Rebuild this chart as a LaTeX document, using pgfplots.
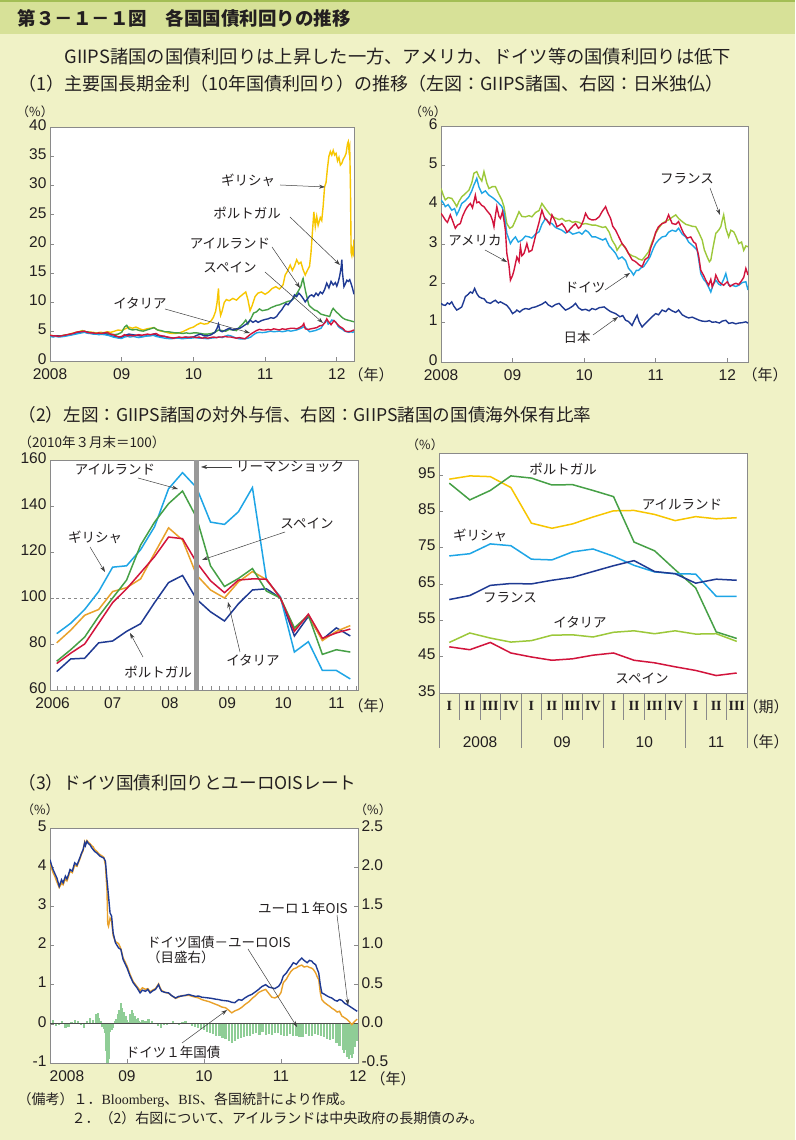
\documentclass[border=0pt]{standalone}
\usepackage{pgfplots}
\pgfplotsset{compat=1.18}
\usetikzlibrary{arrows.meta}
\usepackage{fontspec}
\setmainfont{Noto Sans CJK JP}
\newfontfamily\lsans{Liberation Sans}
\newfontfamily\lserif{Liberation Serif}
\definecolor{bg}{HTML}{F0F2C6}
\definecolor{band}{HTML}{D7E198}
\definecolor{bandline}{HTML}{A3BE55}
\definecolor{axgray}{HTML}{8A8A8A}
\definecolor{cyel}{HTML}{F7C600}
\definecolor{cnavy}{HTML}{1F3A93}
\definecolor{cgrn}{HTML}{46A046}
\definecolor{clblue}{HTML}{1EA5E6}
\definecolor{cred}{HTML}{D2143C}
\definecolor{cygrn}{HTML}{9CC83A}
\definecolor{corange}{HTML}{E9A12A}
\definecolor{cbar}{HTML}{8FCD96}
\definecolor{txt}{HTML}{231F20}
\newcommand{\fs}[1]{\fontsize{#1}{#1}\selectfont}
\pgfplotsset{
  base/.style={
    scale only axis, axis background/.style={fill=white},
    axis line style={draw=axgray, line width=0.7pt},
    tick style={draw=axgray, line width=0.6pt},
    tick align=inside, major tick length=4pt,
    xtick pos=left, ytick pos=left,
    tick label style={font=\lsans\fs{15.5}, text=txt},
    xticklabel style={yshift=-4pt},
    yticklabel style={yshift=2pt},
    /pgf/number format/assume math mode=true,
    anchor=south west,
  },
}
\tikzset{
  lab/.style={font=\fs{13.5}, text=txt, inner sep=1pt},
  arr/.style={draw=black!75, line width=0.5pt, -{Stealth[length=6pt,width=4pt]}},
}
\begin{document}
\begin{tikzpicture}
\useasboundingbox (0pt,0pt) rectangle (795pt,1140pt);
\begin{scope}[x=1pt,y=1pt]
\fill[bg] (0,0) rectangle (795,1140);
\fill[band] (0,1106) rectangle (795,1140);
\draw[bandline, line width=2.5pt] (0,1139) -- (795,1139);
\node[anchor=west, font=\fs{18.5}\bfseries, text=txt] at (14,1122) {第３－１－１図　各国国債利回りの推移};
\node[anchor=west, font=\fs{18.3}, text=txt] at (61,1083) {GIIPS諸国の国債利回りは上昇した一方、アメリカ、ドイツ等の国債利回りは低下};
\node[anchor=west, font=\fs{18}, text=txt] at (15,1056) {（1）主要国長期金利（10年国債利回り）の推移（左図：GIIPS諸国、右図：日米独仏）};
\end{scope}

%================ Panel 1 =================
\begin{axis}[base, at={(50pt,779pt)}, width=304pt, height=234pt,
  xmin=2008, xmax=2012.24, ymin=0, ymax=40,
  xtick={2008,2009,2010,2011,2012}, xticklabels={2008,09,10,11,12},
  ytick={0,5,...,40}]
\addplot[cyel, line width=1.4pt] coordinates {
(2008.00,4.4)(2008.05,4.3)(2008.10,4.3)(2008.15,4.25)(2008.20,4.4)(2008.25,4.5)(2008.30,4.7)(2008.35,4.85)(2008.40,5.0)(2008.45,5.2)(2008.50,5.0)(2008.55,4.95)(2008.60,4.9)(2008.65,4.8)(2008.70,4.9)(2008.75,4.85)(2008.80,5.0)(2008.85,4.9)(2008.90,5.1)(2008.95,5.3)(2009.00,5.2)(2009.05,5.5)(2009.10,5.8)(2009.15,5.6)(2009.20,5.8)(2009.25,5.5)(2009.30,5.3)(2009.35,5.5)(2009.40,5.6)(2009.45,5.7)(2009.50,5.3)(2009.55,5.1)(2009.60,5.0)(2009.65,4.8)(2009.70,4.7)(2009.75,4.7)(2009.80,4.8)(2009.85,5.0)(2009.90,5.3)(2009.95,5.6)(2010.00,5.8)(2010.05,6.2)(2010.10,6.5)(2010.15,6.3)(2010.20,6.4)(2010.25,6.9)(2010.28,7.5)(2010.31,8.5)(2010.33,10.0)(2010.35,12.4)(2010.36,9.5)(2010.38,7.8)(2010.40,8.5)(2010.43,10.0)(2010.46,10.5)(2010.50,10.3)(2010.55,10.7)(2010.60,10.4)(2010.65,11.0)(2010.70,11.5)(2010.73,11.8)(2010.76,10.5)(2010.79,8.6)(2010.82,9.5)(2010.86,11.0)(2010.90,11.6)(2010.95,11.8)(2011.00,11.4)(2011.05,11.8)(2011.10,12.4)(2011.15,12.7)(2011.20,12.3)(2011.25,13.0)(2011.28,14.7)(2011.31,15.3)(2011.35,16.4)(2011.38,15.5)(2011.41,16.2)(2011.44,17.3)(2011.47,16.6)(2011.50,16.9)(2011.53,15.6)(2011.56,14.7)(2011.59,15.5)(2011.62,16.2)(2011.64,18.5)(2011.66,22.0)(2011.68,25.5)(2011.70,23.0)(2011.72,24.7)(2011.74,23.2)(2011.77,24.5)(2011.79,24.0)(2011.81,26.5)(2011.83,29.8)(2011.85,30.5)(2011.87,33.0)(2011.89,35.0)(2011.91,35.8)(2011.93,35.2)(2011.95,36.0)(2011.97,35.2)(2011.99,35.5)(2012.01,34.2)(2012.03,34.8)(2012.05,33.5)(2012.07,33.8)(2012.09,34.5)(2012.11,34.9)(2012.13,35.5)(2012.15,37.2)(2012.16,37.5)(2012.17,36.0)(2012.18,36.6)(2012.19,30.0)(2012.20,18.5)(2012.21,18.0)(2012.22,19.0)(2012.23,18.5)(2012.24,20.8)};
\addplot[cgrn, line width=1.4pt] coordinates {
(2008.00,4.3)(2008.05,4.2)(2008.10,4.3)(2008.15,4.3)(2008.20,4.4)(2008.25,4.5)(2008.30,4.6)(2008.35,4.8)(2008.40,4.9)(2008.45,5.1)(2008.50,5.0)(2008.55,4.9)(2008.60,4.8)(2008.65,4.7)(2008.70,4.7)(2008.75,4.8)(2008.80,4.7)(2008.85,4.6)(2008.90,4.5)(2008.95,4.6)(2009.00,4.9)(2009.04,5.8)(2009.07,6.1)(2009.10,5.5)(2009.15,5.3)(2009.20,5.4)(2009.25,5.2)(2009.30,5.1)(2009.35,5.3)(2009.40,5.5)(2009.45,5.7)(2009.50,5.3)(2009.55,5.2)(2009.60,5.0)(2009.65,5.0)(2009.70,4.9)(2009.75,4.8)(2009.80,4.8)(2009.85,4.7)(2009.90,4.8)(2009.95,4.7)(2010.00,4.8)(2010.05,4.8)(2010.10,4.7)(2010.15,4.6)(2010.20,4.6)(2010.25,4.7)(2010.30,4.9)(2010.35,5.3)(2010.40,5.2)(2010.45,5.1)(2010.50,5.4)(2010.55,5.3)(2010.60,5.2)(2010.65,5.9)(2010.70,6.5)(2010.73,7.0)(2010.76,6.3)(2010.80,7.2)(2010.84,8.2)(2010.88,8.4)(2010.92,8.9)(2010.96,8.6)(2011.00,8.7)(2011.04,8.8)(2011.08,9.1)(2011.12,9.3)(2011.16,9.5)(2011.20,9.6)(2011.24,9.8)(2011.28,10.0)(2011.32,10.2)(2011.36,10.3)(2011.40,10.7)(2011.44,11.5)(2011.47,12.1)(2011.50,12.8)(2011.52,13.8)(2011.53,14.1)(2011.55,12.8)(2011.57,11.6)(2011.59,10.6)(2011.61,9.6)(2011.63,9.3)(2011.66,9.0)(2011.69,8.7)(2011.72,8.6)(2011.75,8.3)(2011.78,8.0)(2011.81,7.9)(2011.84,7.8)(2011.87,7.7)(2011.90,7.6)(2011.93,8.6)(2011.95,9.0)(2011.97,8.7)(2012.00,8.3)(2012.03,8.0)(2012.06,7.6)(2012.09,7.3)(2012.12,7.1)(2012.15,7.0)(2012.18,6.9)(2012.21,6.8)(2012.24,6.7)};
\addplot[cnavy, line width=1.4pt] coordinates {
(2008.00,4.3)(2008.05,4.2)(2008.10,4.3)(2008.15,4.2)(2008.20,4.3)(2008.25,4.4)(2008.30,4.5)(2008.35,4.7)(2008.40,4.8)(2008.45,5.0)(2008.50,5.0)(2008.55,4.8)(2008.60,4.7)(2008.65,4.6)(2008.70,4.6)(2008.75,4.7)(2008.80,4.5)(2008.85,4.3)(2008.90,4.2)(2008.95,4.0)(2009.00,4.0)(2009.05,4.4)(2009.10,4.6)(2009.15,4.5)(2009.20,4.4)(2009.25,4.3)(2009.30,4.2)(2009.35,4.3)(2009.40,4.4)(2009.45,4.6)(2009.50,4.3)(2009.55,4.2)(2009.60,4.2)(2009.65,4.0)(2009.70,3.9)(2009.75,3.9)(2009.80,4.0)(2009.85,3.9)(2009.90,4.1)(2009.95,4.0)(2010.00,4.1)(2010.05,4.4)(2010.10,4.6)(2010.15,4.3)(2010.20,4.3)(2010.25,4.5)(2010.30,4.9)(2010.33,5.6)(2010.35,6.3)(2010.37,5.2)(2010.40,5.0)(2010.45,5.3)(2010.50,5.6)(2010.55,5.3)(2010.60,5.5)(2010.65,5.6)(2010.70,6.0)(2010.75,6.4)(2010.79,7.0)(2010.83,6.6)(2010.87,6.9)(2010.90,6.6)(2010.95,6.9)(2011.00,7.1)(2011.04,7.2)(2011.08,7.4)(2011.12,7.3)(2011.16,7.6)(2011.20,8.3)(2011.23,8.7)(2011.26,9.3)(2011.29,9.8)(2011.32,9.6)(2011.35,10.1)(2011.38,10.5)(2011.41,11.3)(2011.44,11.0)(2011.47,11.6)(2011.50,11.2)(2011.53,10.7)(2011.56,10.1)(2011.59,10.6)(2011.62,11.1)(2011.65,11.3)(2011.68,11.0)(2011.71,11.6)(2011.74,11.2)(2011.77,11.8)(2011.80,11.5)(2011.83,12.2)(2011.86,13.3)(2011.89,12.5)(2011.92,13.6)(2011.95,13.0)(2011.98,13.4)(2012.00,12.8)(2012.02,13.5)(2012.04,14.5)(2012.06,16.0)(2012.07,17.3)(2012.08,15.0)(2012.10,12.7)(2012.12,13.2)(2012.14,13.8)(2012.16,13.6)(2012.18,13.9)(2012.20,13.2)(2012.22,12.4)(2012.24,11.4)};
\addplot[clblue, line width=1.4pt] coordinates {
(2008.00,4.2)(2008.04,4.1)(2008.08,4.2)(2008.12,4.1)(2008.16,4.15)(2008.20,4.2)(2008.24,4.3)(2008.28,4.4)(2008.32,4.5)(2008.36,4.6)(2008.40,4.7)(2008.44,4.8)(2008.48,4.9)(2008.52,4.75)(2008.56,4.7)(2008.60,4.6)(2008.64,4.6)(2008.68,4.5)(2008.72,4.55)(2008.76,4.5)(2008.80,4.4)(2008.84,4.3)(2008.88,4.1)(2008.92,4.0)(2008.96,3.9)(2009.00,3.85)(2009.04,4.1)(2009.08,4.2)(2009.12,4.1)(2009.16,4.2)(2009.20,4.1)(2009.24,4.0)(2009.28,4.1)(2009.32,4.2)(2009.36,4.3)(2009.40,4.3)(2009.44,4.4)(2009.48,4.2)(2009.52,4.1)(2009.56,4.0)(2009.60,3.9)(2009.64,3.85)(2009.68,3.8)(2009.72,3.85)(2009.76,3.9)(2009.80,3.9)(2009.84,3.8)(2009.88,3.85)(2009.92,3.9)(2009.96,3.9)(2010.00,3.95)(2010.04,4.0)(2010.08,3.9)(2010.12,3.9)(2010.16,3.85)(2010.20,3.8)(2010.24,3.9)(2010.28,3.95)(2010.32,4.0)(2010.36,4.1)(2010.40,4.0)(2010.44,4.2)(2010.48,4.4)(2010.52,4.3)(2010.56,4.1)(2010.60,3.9)(2010.64,3.8)(2010.68,3.75)(2010.72,3.8)(2010.76,3.9)(2010.80,4.1)(2010.84,4.5)(2010.88,4.8)(2010.92,4.9)(2010.96,4.85)(2011.00,4.9)(2011.04,5.0)(2011.08,5.1)(2011.12,5.0)(2011.16,5.05)(2011.20,5.1)(2011.24,5.0)(2011.28,5.1)(2011.32,5.2)(2011.36,5.1)(2011.40,5.2)(2011.44,5.3)(2011.48,5.5)(2011.52,5.7)(2011.55,5.9)(2011.58,5.5)(2011.62,5.0)(2011.66,5.1)(2011.70,5.2)(2011.74,5.4)(2011.78,5.6)(2011.81,6.2)(2011.84,6.8)(2011.86,7.0)(2011.88,6.3)(2011.90,6.5)(2011.93,7.0)(2011.96,6.9)(2011.99,6.6)(2012.02,5.9)(2012.05,5.6)(2012.08,5.4)(2012.11,5.1)(2012.14,5.0)(2012.17,4.9)(2012.20,5.0)(2012.22,4.9)(2012.24,5.0)};
\addplot[cred, line width=1.4pt] coordinates {
(2008.00,4.4)(2008.04,4.3)(2008.08,4.3)(2008.12,4.2)(2008.16,4.3)(2008.20,4.4)(2008.24,4.5)(2008.28,4.6)(2008.32,4.7)(2008.36,4.9)(2008.40,5.0)(2008.44,5.0)(2008.48,5.1)(2008.52,4.9)(2008.56,4.8)(2008.60,4.8)(2008.64,4.7)(2008.68,4.8)(2008.72,4.7)(2008.76,4.8)(2008.80,4.9)(2008.84,4.6)(2008.88,4.5)(2008.92,4.3)(2008.96,4.1)(2009.00,4.2)(2009.04,4.5)(2009.08,4.3)(2009.12,4.4)(2009.16,4.3)(2009.20,4.4)(2009.24,4.5)(2009.28,4.4)(2009.32,4.5)(2009.36,4.6)(2009.40,4.5)(2009.44,4.6)(2009.48,4.7)(2009.52,4.4)(2009.56,4.3)(2009.60,4.2)(2009.64,4.1)(2009.68,4.0)(2009.72,3.9)(2009.76,4.0)(2009.80,4.1)(2009.84,4.0)(2009.88,4.1)(2009.92,4.0)(2009.96,4.1)(2010.00,4.1)(2010.04,4.0)(2010.08,4.1)(2010.12,3.9)(2010.16,4.0)(2010.20,3.9)(2010.24,4.0)(2010.28,4.1)(2010.32,4.0)(2010.36,4.1)(2010.40,4.1)(2010.44,4.2)(2010.48,4.1)(2010.52,4.1)(2010.56,4.0)(2010.60,3.9)(2010.64,4.0)(2010.68,3.9)(2010.72,3.8)(2010.76,4.2)(2010.80,4.6)(2010.84,4.9)(2010.88,5.2)(2010.92,5.4)(2010.96,5.3)(2011.00,5.3)(2011.04,5.4)(2011.08,5.3)(2011.12,5.5)(2011.16,5.4)(2011.20,5.3)(2011.24,5.5)(2011.28,5.4)(2011.32,5.5)(2011.36,5.6)(2011.40,5.6)(2011.44,5.5)(2011.48,5.7)(2011.52,6.0)(2011.54,6.4)(2011.56,5.5)(2011.60,5.4)(2011.64,5.5)(2011.68,5.6)(2011.72,5.7)(2011.76,6.0)(2011.80,6.1)(2011.84,6.6)(2011.86,7.2)(2011.88,6.8)(2011.92,6.2)(2011.96,6.9)(2012.00,6.4)(2012.04,5.9)(2012.08,5.6)(2012.12,5.1)(2012.16,5.0)(2012.20,5.1)(2012.24,5.3)};
\end{axis}
\begin{scope}[x=1pt,y=1pt]
\node[lab, font=\fs{12.5}] at (35,1028) {（\%）};
\node[lab, font=\fs{15}] at (371,765) {（年）};
\node[lab] at (248,960) {ギリシャ};
\draw[arr] (280,955) -- (325,953);
\node[lab] at (247,927) {ポルトガル};
\draw[arr] (290,923) -- (340,875);
\node[lab] at (230,896) {アイルランド};
\draw[arr] (272,893) -- (300,852);
\node[lab] at (230,873) {スペイン};
\draw[arr] (265,868) -- (323,817);
\node[lab] at (140,837) {イタリア};
\draw[arr] (165,831) -- (250,807);
\end{scope}

%================ Panel 2 =================
\begin{axis}[base, at={(441pt,778pt)}, width=307pt, height=236pt,
  xmin=2008, xmax=2012.29, ymin=0, ymax=6,
  xtick={2008,2009,2010,2011,2012}, xticklabels={2008,09,10,11,12},
  ytick={0,1,...,6}]
\addplot[cygrn, line width=1.4pt] coordinates {
(2008.00,4.41)(2008.03,4.25)(2008.06,4.12)(2008.10,4.18)(2008.15,4.16)(2008.19,4.05)(2008.22,3.95)(2008.25,4.08)(2008.29,4.20)(2008.34,4.28)(2008.39,4.37)(2008.43,4.55)(2008.46,4.80)(2008.50,4.84)(2008.53,4.71)(2008.57,4.60)(2008.60,4.84)(2008.64,4.55)(2008.67,4.41)(2008.72,4.46)(2008.76,4.46)(2008.80,4.30)(2008.85,4.12)(2008.88,3.95)(2008.92,3.52)(2008.96,3.40)(2009.00,3.44)(2009.04,3.60)(2009.09,3.82)(2009.13,3.70)(2009.18,3.69)(2009.23,3.72)(2009.27,3.69)(2009.32,3.80)(2009.37,3.85)(2009.41,4.03)(2009.46,3.90)(2009.51,3.78)(2009.55,3.70)(2009.60,3.66)(2009.65,3.62)(2009.69,3.65)(2009.74,3.58)(2009.79,3.60)(2009.84,3.55)(2009.88,3.57)(2009.93,3.55)(2009.97,3.50)(2010.02,3.52)(2010.07,3.50)(2010.11,3.48)(2010.16,3.48)(2010.21,3.45)(2010.26,3.42)(2010.30,3.44)(2010.35,3.30)(2010.39,3.10)(2010.44,2.95)(2010.46,2.84)(2010.50,2.95)(2010.53,3.01)(2010.58,2.88)(2010.62,2.76)(2010.67,2.70)(2010.72,2.67)(2010.76,2.62)(2010.81,2.59)(2010.85,2.68)(2010.90,2.80)(2010.95,3.05)(2011.00,3.27)(2011.04,3.40)(2011.09,3.52)(2011.14,3.58)(2011.18,3.61)(2011.23,3.68)(2011.28,3.74)(2011.32,3.65)(2011.37,3.57)(2011.42,3.50)(2011.46,3.48)(2011.51,3.45)(2011.56,3.44)(2011.60,3.30)(2011.65,3.10)(2011.68,2.85)(2011.72,2.67)(2011.75,2.55)(2011.77,2.59)(2011.80,2.90)(2011.84,3.27)(2011.88,3.35)(2011.91,3.44)(2011.93,3.60)(2011.95,3.74)(2011.98,3.40)(2012.02,3.18)(2012.05,3.35)(2012.09,3.31)(2012.12,3.20)(2012.16,3.01)(2012.20,3.05)(2012.23,2.84)(2012.26,2.95)(2012.29,2.93)};
\addplot[clblue, line width=1.4pt] coordinates {
(2008.00,4.12)(2008.03,4.05)(2008.06,3.95)(2008.10,4.00)(2008.15,3.86)(2008.19,3.90)(2008.22,3.74)(2008.25,3.85)(2008.29,4.03)(2008.34,4.10)(2008.39,4.20)(2008.43,4.35)(2008.46,4.50)(2008.48,4.58)(2008.50,4.67)(2008.53,4.45)(2008.57,4.29)(2008.62,4.35)(2008.67,4.24)(2008.72,4.18)(2008.76,4.12)(2008.80,4.05)(2008.85,3.95)(2008.88,3.80)(2008.92,3.27)(2008.97,3.01)(2009.00,3.10)(2009.04,3.18)(2009.08,3.05)(2009.13,3.10)(2009.18,3.20)(2009.23,3.18)(2009.27,3.15)(2009.32,3.25)(2009.37,3.31)(2009.41,3.50)(2009.46,3.65)(2009.50,3.55)(2009.55,3.52)(2009.60,3.42)(2009.65,3.38)(2009.69,3.35)(2009.74,3.28)(2009.79,3.32)(2009.84,3.25)(2009.88,3.27)(2009.93,3.30)(2009.97,3.25)(2010.02,3.35)(2010.06,3.30)(2010.11,3.18)(2010.16,3.18)(2010.21,3.14)(2010.26,3.10)(2010.30,3.14)(2010.35,2.95)(2010.40,2.85)(2010.44,2.76)(2010.48,2.62)(2010.53,2.67)(2010.58,2.58)(2010.62,2.38)(2010.66,2.30)(2010.69,2.21)(2010.73,2.33)(2010.76,2.33)(2010.80,2.40)(2010.83,2.42)(2010.88,2.55)(2010.92,2.67)(2010.97,2.90)(2011.00,3.01)(2011.04,3.10)(2011.09,3.18)(2011.14,3.20)(2011.18,3.30)(2011.23,3.35)(2011.28,3.32)(2011.32,3.40)(2011.37,3.25)(2011.42,3.18)(2011.46,3.05)(2011.51,2.97)(2011.55,2.90)(2011.58,2.84)(2011.61,2.50)(2011.63,2.25)(2011.67,2.10)(2011.70,2.04)(2011.74,1.90)(2011.77,1.78)(2011.80,1.95)(2011.84,2.08)(2011.88,1.98)(2011.91,1.95)(2011.95,2.10)(2011.98,2.25)(2012.02,1.95)(2012.07,1.95)(2012.12,1.92)(2012.16,1.95)(2012.21,2.02)(2012.26,2.04)(2012.29,1.83)};
\addplot[cred, line width=1.4pt] coordinates {
(2008.00,3.78)(2008.03,3.70)(2008.06,3.61)(2008.09,3.55)(2008.13,3.74)(2008.16,3.60)(2008.20,3.40)(2008.23,3.48)(2008.27,3.52)(2008.30,3.70)(2008.34,3.86)(2008.37,3.95)(2008.41,4.03)(2008.44,3.92)(2008.48,4.24)(2008.50,4.05)(2008.53,4.07)(2008.57,3.98)(2008.60,3.95)(2008.64,3.85)(2008.69,3.74)(2008.72,3.60)(2008.74,3.44)(2008.76,3.72)(2008.78,3.95)(2008.81,3.70)(2008.83,3.65)(2008.86,3.82)(2008.88,3.60)(2008.90,3.35)(2008.92,2.76)(2008.95,2.45)(2008.97,2.08)(2009.00,2.20)(2009.02,2.33)(2009.04,2.50)(2009.06,2.67)(2009.09,2.55)(2009.11,2.93)(2009.13,2.70)(2009.16,2.76)(2009.18,2.88)(2009.20,3.01)(2009.23,2.80)(2009.27,2.84)(2009.30,3.05)(2009.34,3.35)(2009.37,3.55)(2009.41,3.86)(2009.45,3.65)(2009.48,3.61)(2009.52,3.50)(2009.55,3.74)(2009.59,3.60)(2009.62,3.44)(2009.66,3.48)(2009.69,3.52)(2009.73,3.42)(2009.76,3.30)(2009.79,3.35)(2009.84,3.45)(2009.88,3.52)(2009.92,3.40)(2009.95,3.44)(2009.99,3.60)(2010.02,3.78)(2010.06,3.65)(2010.11,3.61)(2010.16,3.62)(2010.21,3.69)(2010.25,3.82)(2010.30,3.95)(2010.33,3.80)(2010.37,3.65)(2010.40,3.45)(2010.44,3.35)(2010.48,3.20)(2010.53,3.01)(2010.58,2.90)(2010.62,2.76)(2010.67,2.60)(2010.72,2.55)(2010.76,2.48)(2010.81,2.42)(2010.85,2.60)(2010.90,2.67)(2010.93,2.90)(2010.97,3.10)(2011.00,3.30)(2011.04,3.44)(2011.09,3.52)(2011.14,3.55)(2011.18,3.74)(2011.23,3.52)(2011.28,3.50)(2011.32,3.57)(2011.37,3.35)(2011.39,3.27)(2011.44,3.15)(2011.49,3.18)(2011.53,3.05)(2011.56,3.01)(2011.60,2.70)(2011.63,2.33)(2011.67,2.20)(2011.70,2.08)(2011.74,1.95)(2011.77,2.10)(2011.79,1.91)(2011.82,2.05)(2011.84,2.21)(2011.88,2.05)(2011.91,2.00)(2011.95,1.95)(2012.00,2.04)(2012.04,1.92)(2012.09,1.98)(2012.12,2.00)(2012.16,1.97)(2012.19,2.04)(2012.23,2.15)(2012.26,2.38)(2012.29,2.21)};
\addplot[cnavy, line width=1.4pt] coordinates {
(2008.00,1.49)(2008.03,1.45)(2008.06,1.44)(2008.09,1.50)(2008.12,1.47)(2008.15,1.53)(2008.18,1.42)(2008.22,1.32)(2008.25,1.35)(2008.29,1.40)(2008.32,1.55)(2008.34,1.66)(2008.38,1.72)(2008.41,1.78)(2008.44,1.75)(2008.47,1.87)(2008.50,1.74)(2008.53,1.66)(2008.57,1.62)(2008.60,1.61)(2008.64,1.52)(2008.69,1.49)(2008.72,1.53)(2008.76,1.57)(2008.80,1.50)(2008.83,1.53)(2008.88,1.48)(2008.92,1.44)(2008.96,1.35)(2009.00,1.23)(2009.04,1.28)(2009.06,1.32)(2009.10,1.27)(2009.14,1.33)(2009.18,1.36)(2009.23,1.34)(2009.27,1.38)(2009.32,1.40)(2009.36,1.43)(2009.41,1.47)(2009.46,1.53)(2009.50,1.45)(2009.55,1.40)(2009.60,1.46)(2009.65,1.49)(2009.69,1.41)(2009.74,1.32)(2009.79,1.36)(2009.84,1.42)(2009.88,1.49)(2009.92,1.38)(2009.97,1.32)(2010.02,1.34)(2010.07,1.30)(2010.11,1.36)(2010.16,1.33)(2010.21,1.38)(2010.28,1.40)(2010.33,1.33)(2010.37,1.28)(2010.44,1.23)(2010.50,1.15)(2010.54,1.18)(2010.58,1.06)(2010.62,1.03)(2010.67,0.93)(2010.70,1.05)(2010.74,1.19)(2010.77,1.02)(2010.81,0.89)(2010.85,0.97)(2010.90,1.06)(2010.95,1.15)(2011.00,1.23)(2011.04,1.20)(2011.09,1.32)(2011.14,1.28)(2011.18,1.36)(2011.23,1.30)(2011.28,1.26)(2011.32,1.32)(2011.37,1.20)(2011.42,1.15)(2011.46,1.12)(2011.51,1.14)(2011.56,1.10)(2011.61,1.06)(2011.65,1.04)(2011.70,1.03)(2011.75,1.05)(2011.79,1.01)(2011.84,1.02)(2011.89,0.99)(2011.93,1.04)(2011.98,1.06)(2012.02,0.98)(2012.07,1.00)(2012.12,0.97)(2012.16,0.99)(2012.21,1.00)(2012.26,1.02)(2012.29,0.99)};
\end{axis}
\begin{scope}[x=1pt,y=1pt]
\node[lab, font=\fs{12.5}] at (428,1028) {（\%）};
\node[lab, font=\fs{15}] at (765,765) {（年）};
\node[lab] at (687,961) {フランス};
\draw[arr] (710,952) -- (720,925);
\node[lab] at (475,900) {アメリカ};
\draw[arr] (485,890) -- (507,878);
\node[lab] at (585,852) {ドイツ};
\draw[arr] (605,850) -- (630,867);
\node[lab] at (577,803) {日本};
\draw[arr] (593,805) -- (618,823);
\node[anchor=west, font=\fs{17.6}, text=txt] at (15,725) {（2）左図：GIIPS諸国の対外与信、右図：GIIPS諸国の国債海外保有比率};
\node[anchor=west, font=\fs{13.5}, text=txt] at (15,698) {（2010年３月末＝100）};
\end{scope}

%================ Panel 3 =================
\begin{axis}[base, at={(50pt,450pt)}, width=308pt, height=230pt,
  xmin=-0.48, xmax=21.55, ymin=60, ymax=160,
  ytick={60,80,...,160},
  xtick={0.07,0.68,...,21.5},
  xticklabels={}, major tick length=3.5pt,
  extra x ticks={-0.3,4,8.1,12.2,16.2,20},
  extra x tick labels={2006,07,08,09,10,11},
  extra x tick style={major tick length=0pt}]
\draw[axgray, dashed, line width=0.5pt] (axis cs:-0.48,100) -- (axis cs:21.55,100);
\addplot[cnavy, line width=1.5pt] coordinates {(0,68)(1,73.5)(2,73.8)(3,80.5)(4,81.3)(5,85.5)(6,88.8)(7,98)(8,106.7)(9,109.8)(10,99.5)(11,94)(12,90)(13,97.5)(14,103.5)(15,104)(16,100)(17,83.5)(18,92)(19,82)(20,87)(21,83.5)};
\addplot[clblue, line width=1.5pt] coordinates {(0,84.5)(1,89)(2,95)(3,102.8)(4,113.4)(5,114)(6,121)(7,131)(8,147.5)(9,154.5)(10,148)(11,133)(12,132)(13,137.5)(14,148)(15,107.8)(16,100.5)(17,76.5)(18,81)(19,68.5)(20,68.5)(21,64.8)};
\addplot[corange, line width=1.5pt] coordinates {(0,80.5)(1,86)(2,92.5)(3,95)(4,102.8)(5,104.5)(6,108.3)(7,119.5)(8,130.5)(9,125.2)(10,110)(11,103.5)(12,100)(13,107)(14,111.5)(15,108)(16,100)(17,86.5)(18,92.5)(19,81.5)(20,85.5)(21,88)};
\addplot[cgrn, line width=1.5pt] coordinates {(0,72.5)(1,77.5)(2,83)(3,92)(4,100)(5,107.8)(6,123)(7,133)(8,141)(9,146.5)(10,135)(11,114)(12,105)(13,108.5)(14,112.8)(15,103)(16,100)(17,87)(18,92.5)(19,75.5)(20,77.5)(21,76.5)};
\addplot[cred, line width=1.5pt] coordinates {(0,71.5)(1,76)(2,80)(3,89)(4,98)(5,104)(6,111)(7,118)(8,126.5)(9,125.8)(10,115.5)(11,107.5)(12,102.3)(13,107.8)(14,108.3)(15,108.2)(16,100)(17,85.5)(18,93)(19,82.5)(20,84.8)(21,86.5)};
\fill[black!40] (axis cs:9.82,60) rectangle (axis cs:10.18,160);
\end{axis}
\begin{scope}[x=1pt,y=1pt]
\node[lab, font=\fs{15}] at (371,434) {（年）};
\node[lab] at (115,670) {アイルランド};
\draw[arr] (138,662) -- (178,651);
\node[lab] at (95,603) {ギリシャ};
\draw[arr] (90,593) -- (105,568);
\node[lab] at (307,617) {スペイン};
\draw[arr] (285,608) -- (202,580);
\node[lab] at (253,480) {イタリア};
\draw[arr] (240,488) -- (228,538);
\node[lab] at (158,468) {ポルトガル};
\draw[arr] (143,483) -- (130,507);
\node[lab] at (290,673) {リーマンショック};
\draw[arr] (232,673) -- (201,673);
\end{scope}

%================ Panel 4 =================
\begin{axis}[base, at={(439pt,447pt)}, width=308pt, height=240pt, clip=false,
  xmin=-0.5, xmax=14.5, ymin=35, ymax=101,
  ytick={35,45,...,95},
  xtick={0,...,14}, xtick style={draw=none},
  xticklabels={I,II,III,IV,I,II,III,IV,I,II,III,IV,I,II,III},
  xticklabel style={font=\lserif\bfseries\fs{14}, yshift=-1pt}]
\addplot[cyel, line width=1.5pt] coordinates {(0,93.8)(1,94.7)(2,94.5)(3,91.5)(4,81.7)(5,80.3)(6,81.5)(7,83.4)(8,85.1)(9,85.2)(10,84.1)(11,82.4)(12,83.5)(13,82.9)(14,83.2)};
\addplot[cgrn, line width=1.5pt] coordinates {(0,92.7)(1,88.1)(2,90.7)(3,94.7)(4,94.1)(5,92.2)(6,92.3)(7,90.7)(8,89)(9,76.5)(10,74.1)(11,68.9)(12,63.9)(13,51.8)(14,50)};
\addplot[clblue, line width=1.5pt] coordinates {(0,72.7)(1,73.3)(2,76)(3,75.5)(4,71.8)(5,71.6)(6,73.8)(7,74.6)(8,72.6)(9,70.1)(10,68.3)(11,67.8)(12,67.7)(13,61.6)(14,61.6)};
\addplot[cnavy, line width=1.5pt] coordinates {(0,60.7)(1,61.8)(2,64.6)(3,65.1)(4,65)(5,66)(6,66.8)(7,68.4)(8,70)(9,71.4)(10,68.4)(11,67.8)(12,65.2)(13,66.3)(14,66)};
\addplot[cygrn, line width=1.5pt] coordinates {(0,48.9)(1,51.5)(2,50.1)(3,49)(4,49.4)(5,50.9)(6,51)(7,50.4)(8,51.7)(9,52.1)(10,51.3)(11,52.1)(12,51.2)(13,51.3)(14,49.2)};
\addplot[cred, line width=1.5pt] coordinates {(0,47.7)(1,46.9)(2,48.9)(3,46)(4,44.9)(5,44)(6,44.4)(7,45.4)(8,46)(9,44)(10,43.3)(11,42.2)(12,41.2)(13,39.8)(14,40.5)};
\pgfplotsinvokeforeach{0.5,1.5,2.5,4.5,5.5,6.5,8.5,9.5,10.5,12.5,13.5}{
  \draw[axgray, line width=0.7pt] (axis cs:#1,35) -- ++(0pt,-27pt);}
\pgfplotsinvokeforeach{-0.5,3.5,7.5,11.5,14.5}{
  \draw[axgray, line width=0.7pt] (axis cs:#1,35) -- ++(0pt,-55pt);}
\node[font=\lsans\fs{15.5}, text=txt] at (axis cs:1.5,35) [yshift=-49pt] {2008};
\node[font=\lsans\fs{15.5}, text=txt] at (axis cs:5.5,35) [yshift=-49pt] {09};
\node[font=\lsans\fs{15.5}, text=txt] at (axis cs:9.5,35) [yshift=-49pt] {10};
\node[font=\lsans\fs{15.5}, text=txt] at (axis cs:13,35) [yshift=-49pt] {11};
\end{axis}
\begin{scope}[x=1pt,y=1pt]
\node[lab, font=\fs{12.5}] at (425,695) {（\%）};
\node[lab, font=\fs{15}] at (766,433) {（期）};
\node[lab, font=\fs{15}] at (766,398) {（年）};
\node[lab] at (563,671) {ポルトガル};
\node[lab] at (682,635) {アイルランド};
\node[lab] at (480,605) {ギリシャ};
\node[lab] at (510,542) {フランス};
\node[lab] at (580,518) {イタリア};
\node[lab] at (642,462) {スペイン};
\node[anchor=west, font=\fs{17.6}, text=txt] at (15,357) {（3）ドイツ国債利回りとユーロOISレート};
\end{scope}

%================ Panel 5 (right axis, bars) =================
\begin{axis}[base, at={(50pt,77pt)}, width=308pt, height=235pt,
  xmin=2008, xmax=2012, ymin=-0.5, ymax=2.5,
  axis y line*=right, axis x line=none, ytick pos=right,
  ytick={-0.5,0,0.5,1,1.5,2,2.5},
  yticklabels={-0.5,0.0,0.5,1.0,1.5,2.0,2.5}]
\addplot[ycomb, cbar, line width=2.2pt] coordinates {
(2008.00,0.03)(2008.04,0.05)(2008.08,-0.03)(2008.12,-0.02)(2008.16,0.04)(2008.20,-0.05)(2008.24,-0.04)(2008.28,0.02)(2008.32,0.05)(2008.36,0.03)(2008.40,-0.02)(2008.44,-0.05)(2008.48,0.03)(2008.52,0.08)(2008.56,0.05)(2008.60,0.12)(2008.62,0.14)(2008.64,0.07)(2008.66,0.03)(2008.68,-0.04)(2008.70,-0.06)(2008.72,-0.12)(2008.73,-0.35)(2008.74,-0.55)(2008.75,-0.6)(2008.76,-0.45)(2008.77,-0.3)(2008.78,-0.1)(2008.80,-0.08)(2008.82,-0.05)(2008.84,0.03)(2008.86,0.06)(2008.88,0.12)(2008.90,0.18)(2008.92,0.27)(2008.94,0.20)(2008.96,0.15)(2008.98,0.10)(2009.00,0.05)(2009.02,0.02)(2009.04,0.12)(2009.06,0.18)(2009.08,0.14)(2009.10,0.10)(2009.12,0.06)(2009.14,0.08)(2009.16,0.03)(2009.18,0.02)(2009.20,0.05)(2009.24,0.03)(2009.28,0.06)(2009.32,0.04)(2009.36,0.01)(2009.40,-0.03)(2009.44,-0.05)(2009.48,-0.02)(2009.52,-0.02)(2009.56,0.01)(2009.60,0.03)(2009.64,0.01)(2009.68,-0.01)(2009.72,0.02)(2009.76,0.04)(2009.80,0.01)(2009.84,-0.03)(2009.88,-0.04)(2009.92,-0.05)(2009.96,-0.07)(2010.00,-0.08)(2010.04,-0.10)(2010.08,-0.12)(2010.12,-0.13)(2010.16,-0.15)(2010.20,-0.16)(2010.24,-0.18)(2010.28,-0.19)(2010.32,-0.22)(2010.36,-0.24)(2010.40,-0.22)(2010.44,-0.20)(2010.48,-0.18)(2010.52,-0.17)(2010.56,-0.16)(2010.60,-0.15)(2010.64,-0.13)(2010.68,-0.12)(2010.72,-0.14)(2010.76,-0.11)(2010.80,-0.14)(2010.84,-0.13)(2010.88,-0.14)(2010.92,-0.12)(2010.96,-0.12)(2011.00,-0.14)(2011.04,-0.16)(2011.08,-0.15)(2011.12,-0.13)(2011.16,-0.16)(2011.20,-0.15)(2011.24,-0.17)(2011.28,-0.17)(2011.32,-0.13)(2011.36,-0.16)(2011.40,-0.15)(2011.44,-0.13)(2011.48,-0.14)(2011.52,-0.15)(2011.56,-0.17)(2011.60,-0.19)(2011.64,-0.21)(2011.68,-0.20)(2011.72,-0.25)(2011.76,-0.28)(2011.80,-0.33)(2011.82,-0.37)(2011.84,-0.34)(2011.86,-0.42)(2011.88,-0.45)(2011.90,-0.40)(2011.92,-0.44)(2011.94,-0.38)(2011.96,-0.30)(2011.98,-0.22)};
\end{axis}
%================ Panel 5 (left axis, lines) =================
\begin{axis}[base, at={(50pt,77pt)}, width=308pt, height=235pt,
  axis background/.style={},
  xmin=2008, xmax=2012, ymin=-1, ymax=5,
  ytick={-1,0,...,5},
  xtick={2009,2010,2011}, xticklabels={09,10,11},
  extra x ticks={2008.22,2012}, extra x tick labels={2008,12},
  extra x tick style={major tick length=0pt}]
\draw[black!70, line width=0.8pt] (axis cs:2008,0) -- (axis cs:2012,0);
\addplot[corange, line width=1.4pt] coordinates {
(2008.00,4.10)(2008.02,3.98)(2008.04,3.86)(2008.06,3.78)(2008.09,3.62)(2008.12,3.48)(2008.14,3.55)(2008.15,3.60)(2008.17,3.55)(2008.20,3.70)(2008.22,3.65)(2008.24,3.76)(2008.26,3.90)(2008.29,3.86)(2008.32,4.05)(2008.35,4.02)(2008.37,4.12)(2008.39,4.22)(2008.41,4.34)(2008.43,4.42)(2008.45,4.64)(2008.46,4.58)(2008.48,4.68)(2008.50,4.63)(2008.52,4.60)(2008.54,4.55)(2008.56,4.52)(2008.58,4.45)(2008.61,4.40)(2008.63,4.35)(2008.65,4.32)(2008.68,4.28)(2008.70,4.25)(2008.72,4.05)(2008.74,3.40)(2008.75,2.55)(2008.76,2.49)(2008.78,2.70)(2008.80,2.62)(2008.82,2.25)(2008.85,2.10)(2008.89,2.05)(2008.92,1.92)(2008.95,1.68)(2009.00,1.48)(2009.04,1.26)(2009.08,1.08)(2009.13,0.95)(2009.17,0.85)(2009.20,0.92)(2009.24,0.88)(2009.27,0.90)(2009.30,0.82)(2009.34,0.87)(2009.37,0.90)(2009.41,1.02)(2009.43,0.92)(2009.45,0.85)(2009.50,0.80)(2009.54,0.78)(2009.58,0.72)(2009.63,0.65)(2009.67,0.68)(2009.71,0.72)(2009.76,0.72)(2009.80,0.73)(2009.85,0.70)(2009.89,0.68)(2009.93,0.66)(2009.97,0.62)(2010.02,0.59)(2010.06,0.57)(2010.10,0.54)(2010.15,0.50)(2010.19,0.47)(2010.23,0.43)(2010.28,0.41)(2010.32,0.35)(2010.36,0.28)(2010.40,0.33)(2010.45,0.37)(2010.49,0.42)(2010.53,0.49)(2010.58,0.56)(2010.62,0.64)(2010.67,0.72)(2010.71,0.80)(2010.75,0.84)(2010.80,0.88)(2010.84,0.78)(2010.88,0.68)(2010.92,0.66)(2010.97,0.71)(2011.00,0.80)(2011.03,1.05)(2011.07,1.14)(2011.10,1.25)(2011.13,1.34)(2011.16,1.40)(2011.20,1.43)(2011.23,1.47)(2011.27,1.50)(2011.30,1.45)(2011.34,1.47)(2011.37,1.44)(2011.40,1.42)(2011.42,1.39)(2011.45,1.30)(2011.47,1.20)(2011.49,1.13)(2011.51,0.80)(2011.53,0.62)(2011.56,0.55)(2011.60,0.49)(2011.63,0.45)(2011.66,0.40)(2011.70,0.35)(2011.73,0.30)(2011.76,0.32)(2011.79,0.20)(2011.83,0.15)(2011.86,0.11)(2011.89,0.05)(2011.92,-0.02)(2011.95,0.05)(2011.99,0.12)};
\addplot[cnavy, line width=1.4pt] coordinates {
(2008.00,4.19)(2008.02,4.05)(2008.04,3.94)(2008.06,3.85)(2008.09,3.72)(2008.12,3.51)(2008.14,3.62)(2008.15,3.68)(2008.17,3.60)(2008.20,3.77)(2008.22,3.70)(2008.24,3.81)(2008.26,3.94)(2008.29,3.90)(2008.32,4.11)(2008.35,4.05)(2008.37,4.15)(2008.39,4.25)(2008.41,4.36)(2008.43,4.45)(2008.45,4.62)(2008.46,4.55)(2008.48,4.66)(2008.50,4.60)(2008.52,4.57)(2008.54,4.50)(2008.56,4.45)(2008.58,4.40)(2008.61,4.36)(2008.63,4.32)(2008.65,4.28)(2008.68,4.25)(2008.70,4.23)(2008.72,4.15)(2008.74,3.68)(2008.76,3.26)(2008.78,2.83)(2008.80,2.75)(2008.82,2.32)(2008.85,2.07)(2008.89,1.94)(2008.92,1.90)(2008.95,1.64)(2009.00,1.43)(2009.04,1.22)(2009.08,1.05)(2009.13,0.92)(2009.17,0.79)(2009.20,0.86)(2009.24,0.83)(2009.27,0.88)(2009.30,0.79)(2009.34,0.85)(2009.37,0.88)(2009.41,1.00)(2009.43,0.90)(2009.45,0.83)(2009.50,0.80)(2009.54,0.79)(2009.58,0.72)(2009.63,0.66)(2009.67,0.70)(2009.71,0.71)(2009.76,0.73)(2009.80,0.75)(2009.85,0.72)(2009.89,0.70)(2009.93,0.71)(2009.97,0.68)(2010.02,0.67)(2010.06,0.66)(2010.10,0.65)(2010.15,0.63)(2010.19,0.62)(2010.23,0.60)(2010.28,0.59)(2010.32,0.58)(2010.36,0.55)(2010.40,0.54)(2010.45,0.62)(2010.49,0.60)(2010.53,0.66)(2010.58,0.72)(2010.62,0.75)(2010.67,0.82)(2010.71,0.88)(2010.75,0.95)(2010.80,1.00)(2010.84,0.94)(2010.88,0.92)(2010.92,0.90)(2010.97,0.96)(2011.00,1.05)(2011.03,1.22)(2011.07,1.30)(2011.10,1.39)(2011.13,1.47)(2011.16,1.56)(2011.20,1.52)(2011.23,1.60)(2011.27,1.68)(2011.30,1.62)(2011.34,1.56)(2011.37,1.62)(2011.40,1.60)(2011.42,1.55)(2011.45,1.51)(2011.47,1.40)(2011.49,1.30)(2011.51,1.00)(2011.53,0.79)(2011.56,0.76)(2011.60,0.71)(2011.63,0.68)(2011.66,0.66)(2011.70,0.60)(2011.73,0.58)(2011.76,0.62)(2011.79,0.60)(2011.83,0.52)(2011.86,0.49)(2011.89,0.45)(2011.92,0.41)(2011.95,0.37)(2011.99,0.32)};
\end{axis}
\begin{scope}[x=1pt,y=1pt]
\node[lab, font=\fs{12.5}] at (40,330) {（\%）};
\node[lab, font=\fs{12.5}] at (373,330) {（\%）};
\node[lab, font=\fs{15}] at (393,61) {（年）};
\node[lab] at (303,232) {ユーロ１年OIS};
\draw[arr] (337,225) -- (348,135);
\node[lab, anchor=west] at (146,198) {ドイツ国債－ユーロOIS};
\node[lab, anchor=west] at (146,183) {（目盛右）};
\draw[arr] (248,191) -- (297,113);
\node[lab] at (173,88) {ドイツ１年国債};
\draw[arr] (182,97) -- (227,130);
\node[anchor=west, font=\fs{14}, text=txt] at (14,40) {（備考）１．{\lserif Bloomberg}、{\lserif BIS}、各国統計により作成。};
\node[anchor=west, font=\fs{14}, text=txt] at (68,22) {２．（2）右図について、アイルランドは中央政府の長期債のみ。};
\end{scope}
\end{tikzpicture}
\end{document}
